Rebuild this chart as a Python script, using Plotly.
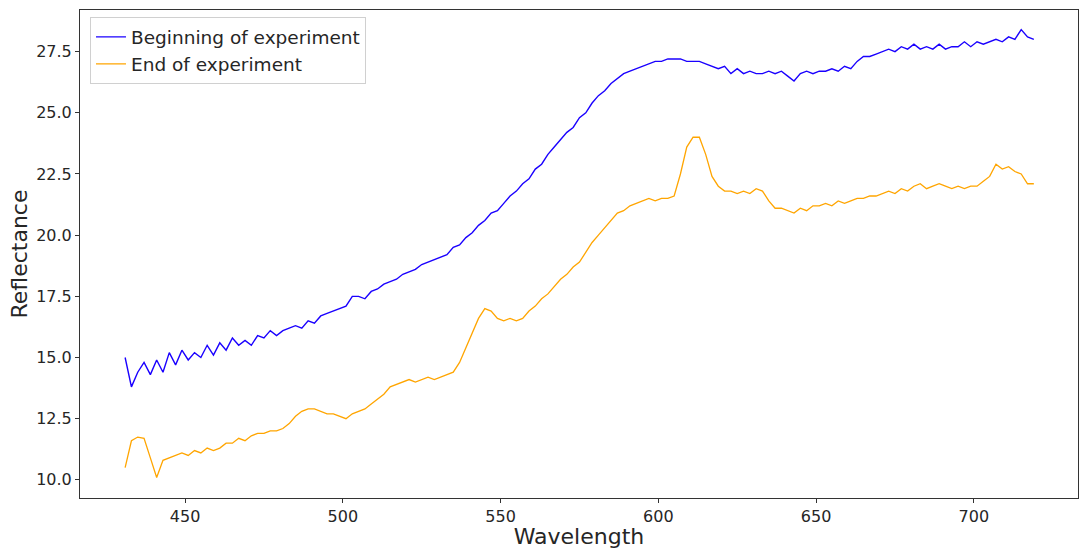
import plotly.graph_objects as go

start_wl = 431
step_wl = 2

beginning = [
    15.0, 13.8, 14.4, 14.8, 14.3, 14.9, 14.4, 15.2, 14.7, 15.3,
    14.9, 15.2, 15.0, 15.5, 15.1, 15.6, 15.3, 15.8, 15.5, 15.7,
    15.5, 15.9, 15.8, 16.1, 15.9, 16.1, 16.2, 16.3, 16.2, 16.5,
    16.4, 16.7, 16.8, 16.9, 17.0, 17.1, 17.5, 17.5, 17.4, 17.7,
    17.8, 18.0, 18.1, 18.2, 18.4, 18.5, 18.6, 18.8, 18.9, 19.0,
    19.1, 19.2, 19.5, 19.6, 19.9, 20.1, 20.4, 20.6, 20.9, 21.0,
    21.3, 21.6, 21.8, 22.1, 22.3, 22.7, 22.9, 23.3, 23.6, 23.9,
    24.2, 24.4, 24.8, 25.0, 25.4, 25.7, 25.9, 26.2, 26.4, 26.6,
    26.7, 26.8, 26.9, 27.0, 27.1, 27.1, 27.2, 27.2, 27.2, 27.1,
    27.1, 27.1, 27.0, 26.9, 26.8, 26.9, 26.6, 26.8, 26.6, 26.7,
    26.6, 26.6, 26.7, 26.6, 26.7, 26.5, 26.3, 26.6, 26.7, 26.6,
    26.7, 26.7, 26.8, 26.7, 26.9, 26.8, 27.1, 27.3, 27.3, 27.4,
    27.5, 27.6, 27.5, 27.7, 27.6, 27.8, 27.6, 27.7, 27.6, 27.8,
    27.6, 27.7, 27.7, 27.9, 27.7, 27.9, 27.8, 27.9, 28.0, 27.9,
    28.1, 28.0, 28.4, 28.1, 28.0,
]

end = [
    10.5, 11.6, 11.75, 11.7, 10.9, 10.1, 10.8, 10.9, 11.0, 11.1,
    11.0, 11.2, 11.1, 11.3, 11.2, 11.3, 11.5, 11.5, 11.7, 11.6,
    11.8, 11.9, 11.9, 12.0, 12.0, 12.1, 12.3, 12.6, 12.8, 12.9,
    12.9, 12.8, 12.7, 12.7, 12.6, 12.5, 12.7, 12.8, 12.9, 13.1,
    13.3, 13.5, 13.8, 13.9, 14.0, 14.1, 14.0, 14.1, 14.2, 14.1,
    14.2, 14.3, 14.4, 14.8, 15.4, 16.0, 16.6, 17.0, 16.9, 16.6,
    16.5, 16.6, 16.5, 16.6, 16.9, 17.1, 17.4, 17.6, 17.9, 18.2,
    18.4, 18.7, 18.9, 19.3, 19.7, 20.0, 20.3, 20.6, 20.9, 21.0,
    21.2, 21.3, 21.4, 21.5, 21.4, 21.5, 21.5, 21.6, 22.5, 23.6,
    24.0, 24.0, 23.3, 22.4, 22.0, 21.8, 21.8, 21.7, 21.8, 21.7,
    21.9, 21.8, 21.4, 21.1, 21.1, 21.0, 20.9, 21.1, 21.0, 21.2,
    21.2, 21.3, 21.2, 21.4, 21.3, 21.4, 21.5, 21.5, 21.6, 21.6,
    21.7, 21.8, 21.7, 21.9, 21.8, 22.0, 22.1, 21.9, 22.0, 22.1,
    22.0, 21.9, 22.0, 21.9, 22.0, 22.0, 22.2, 22.4, 22.9, 22.7,
    22.8, 22.6, 22.5, 22.1, 22.1,
]

x_begin = [start_wl + step_wl * i for i in range(len(beginning))]
x_end = [start_wl + step_wl * i for i in range(len(end))]

x_ticks = [450, 500, 550, 600, 650, 700]
y_ticks = [10.0, 12.5, 15.0, 17.5, 20.0, 22.5, 25.0, 27.5]

font_family = "DejaVu Sans, Liberation Sans, sans-serif"

fig = go.Figure()
fig.add_trace(go.Scatter(x=x_begin, y=beginning, mode="lines",
                         name="Beginning of experiment",
                         line=dict(color="#1a00ff", width=1.4)))
fig.add_trace(go.Scatter(x=x_end, y=end, mode="lines",
                         name="End of experiment",
                         line=dict(color="#ffa500", width=1.3)))

fig.update_layout(
    width=1080, height=549,
    margin=dict(l=80, r=2, t=10, b=51),
    paper_bgcolor="white", plot_bgcolor="white",
    font=dict(family=font_family, color="#262626", size=16),
    legend=dict(x=0.01, y=0.985, xanchor="left", yanchor="top",
                bgcolor="rgba(255,255,255,0.8)", bordercolor="#d0d0d0",
                borderwidth=1, font=dict(size=18.5, family=font_family),
                tracegroupgap=2),
    showlegend=True,
)
fig.update_xaxes(
    range=[416.7, 733.0], tickvals=x_ticks, ticktext=[str(v) for v in x_ticks],
    showgrid=False, zeroline=False, showline=True, linecolor="#333333",
    linewidth=1, mirror=True, ticks="outside", ticklen=4, tickcolor="#333333",
    tickfont=dict(size=16),
    title=dict(text="Wavelength", font=dict(size=22), standoff=6),
)
fig.update_yaxes(
    range=[9.26, 29.2], tickvals=y_ticks, ticktext=[f"{v:.1f}" for v in y_ticks],
    showgrid=False, zeroline=False, showline=True, linecolor="#333333",
    linewidth=1, mirror=True, ticks="outside", ticklen=4, tickcolor="#333333",
    tickfont=dict(size=16),
    title=dict(text="Reflectance", font=dict(size=22), standoff=2),
)

fig.write_html("out.html")
